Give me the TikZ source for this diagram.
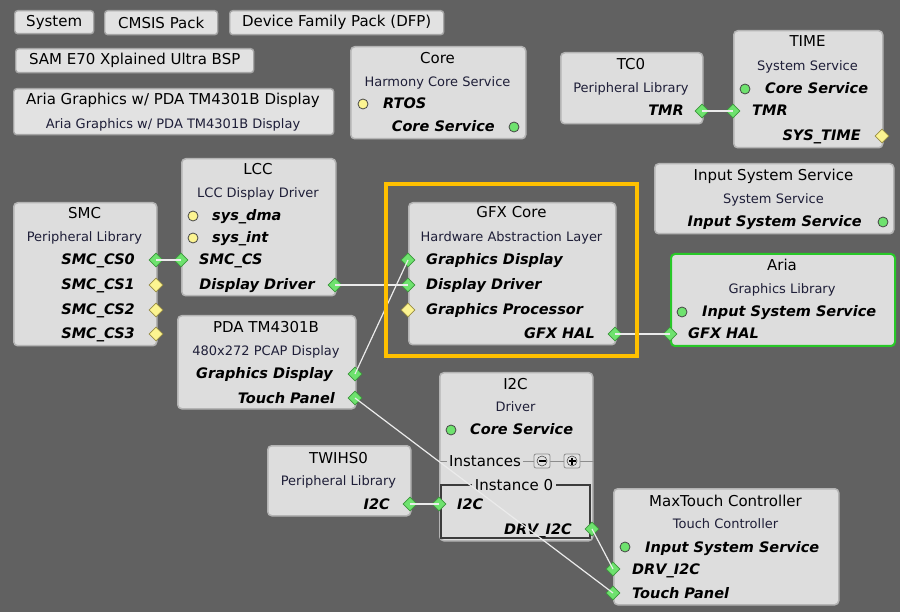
\documentclass[tikz,border=0pt]{standalone}
\usepackage{fontspec}
\setmainfont{DejaVu Sans}
\usetikzlibrary{shapes.geometric}
\definecolor{bgc}{RGB}{97,97,97}
\definecolor{boxfill}{RGB}{221,221,221}
\definecolor{boxline}{RGB}{180,180,180}
\definecolor{btnfill}{RGB}{226,226,226}
\definecolor{btnline}{RGB}{165,165,165}
\definecolor{subc}{RGB}{30,30,56}
\definecolor{gfill}{RGB}{110,226,110}
\definecolor{gdark}{RGB}{60,150,60}
\definecolor{yfill}{RGB}{252,244,145}
\definecolor{ydark}{RGB}{150,140,70}
\definecolor{cdark}{RGB}{70,70,70}
\definecolor{wirec}{RGB}{235,235,235}
\definecolor{orangec}{RGB}{255,192,0}
\definecolor{ariag}{RGB}{40,200,40}
\definecolor{framec}{RGB}{60,60,60}
\definecolor{instl}{RGB}{140,140,140}
\newcommand\blk[6][]{\node[box,#1,anchor=north west,minimum width={#5pt-#3pt},minimum height={#6pt-#4pt}] (#2) at (#3,#4) {};}
\newcommand\ttlT[4]{\node[ttlf,anchor=base] (#1) at (#2,#3+5) {#4};}
\newcommand\subT[4]{\node[subf,anchor=base] (#1) at (#2,#3+4.5) {#4};}
\newcommand\lbL[4]{\node[lblf,anchor=base west] (#1) at (#2,#3+5) {#4};}
\newcommand\lbR[4]{\node[lblf,anchor=base east] (#1) at (#2,#3+5) {#4};}
\begin{document}
\begin{tikzpicture}[x=1pt,y=-1pt,
  box/.style={draw=boxline,fill=boxfill,rounded corners=4pt,line width=1.5pt,inner sep=0pt},
  btn/.style={draw=btnline,fill=btnfill,rounded corners=3pt,line width=1.4pt,inner sep=0pt,font=\fontsize{15}{18}\selectfont},
  ttlf/.style={inner sep=0pt,font=\fontsize{15}{18}\selectfont},
  subf/.style={inner sep=0pt,font=\fontsize{13}{15}\selectfont,text=subc},
  lblf/.style={inner sep=0pt,font=\fontsize{14.5}{17}\selectfont\bfseries\itshape},
  gdia/.style={diamond,draw=gdark,fill=gfill,line width=0.8pt,minimum width=14pt,minimum height=14pt,inner sep=0pt},
  ydia/.style={diamond,draw=ydark,fill=yfill,line width=0.8pt,minimum width=14pt,minimum height=14pt,inner sep=0pt},
  gcir/.style={circle,draw=cdark,fill=gfill,line width=0.8pt,minimum size=10pt,inner sep=0pt},
  ycir/.style={circle,draw=cdark,fill=yfill,line width=0.8pt,minimum size=10pt,inner sep=0pt},
  wire/.style={draw=wirec,line width=1.2pt},
  pm/.style={draw=instl,fill=btnfill,rounded corners=2pt,line width=0.8pt,minimum width=16pt,minimum height=14pt,inner sep=0pt}
]
\fill[bgc] (0,0) rectangle (900,612);
\useasboundingbox (0,0) rectangle (900,612);

% top buttons
\node[btn,anchor=north west,minimum width=79pt,minimum height=23pt] (bsys) at (14,10) {System};
\node[btn,anchor=north west,minimum width=113pt,minimum height=24pt] (bcmsis) at (104,10) {CMSIS Pack};
\node[btn,anchor=north west,minimum width=214pt,minimum height=24pt] (bdfp) at (229,10) {Device Family Pack (DFP)};
\node[btn,anchor=north west,minimum width=238pt,minimum height=24pt] (bbsp) at (15,48) {SAM E70 Xplained Ultra BSP};
\node[btn,anchor=north west,minimum width=320pt,minimum height=46pt] (baria) at (13,88) {};
\ttlT{bariat}{173}{100}{Aria Graphics w/ PDA TM4301B Display}
\subT{barias}{173}{124}{Aria Graphics w/ PDA TM4301B Display}

% Core
\blk{core}{350}{46}{525}{138}
\ttlT{coret}{437.5}{59}{Core}
\subT{cores}{437.5}{82}{Harmony Core Service}
\node[ycir] (corertosc) at (363,104) {};
\lbL{corertos}{383}{104}{RTOS}
\lbR{corecs}{495}{127}{Core Service}
\node[gcir] (corecsc) at (514,127) {};

% TC0
\blk{tc}{560}{52}{702}{123}
\ttlT{tct}{631}{65}{TC0}
\subT{tcs}{631}{88}{Peripheral Library}
\lbR{tctmrl}{684}{111}{TMR}
\node[gdia] (tctmr) at (702,111) {};

% TIME
\blk{time}{733}{30}{882}{147}
\ttlT{timet}{807.5}{42}{TIME}
\subT{times}{807.5}{66}{System Service}
\node[gcir] (timecsc) at (745,89) {};
\lbL{timecs}{765}{89}{Core Service}
\node[gdia] (timetmr) at (733,111) {};
\lbL{timetmrl}{752}{111}{TMR}
\lbR{timesys}{861}{136}{SYS\_TIME}
\node[ydia] (timesysd) at (882,136) {};

% Input System Service
\blk{iss}{654}{163}{893}{233}
\ttlT{isst}{773.5}{176}{Input System Service}
\subT{isss}{773.5}{199}{System Service}
\lbR{issl}{862}{222}{Input System Service}
\node[gcir] (issc) at (883,222) {};

% SMC
\blk{smc}{13}{202}{156}{345}
\ttlT{smct}{84.5}{214}{SMC}
\subT{smcs}{84.5}{237}{Peripheral Library}
\lbR{smc0l}{135}{260}{SMC\_CS0}
\lbR{smc1l}{135}{285}{SMC\_CS1}
\lbR{smc2l}{135}{310}{SMC\_CS2}
\lbR{smc3l}{135}{334}{SMC\_CS3}
\node[gdia] (smc0) at (156,260) {};
\node[ydia] (smc1) at (156,285) {};
\node[ydia] (smc2) at (156,310) {};
\node[ydia] (smc3) at (156,334) {};

% LCC
\blk{lcc}{181}{158}{335}{295}
\ttlT{lcct}{258}{170}{LCC}
\subT{lccs}{258}{193}{LCC Display Driver}
\node[ycir] (lccdmac) at (193,216) {};
\lbL{lccdma}{212}{216}{sys\_dma}
\node[ycir] (lccintc) at (193,238) {};
\lbL{lccint}{212}{238}{sys\_int}
\node[gdia] (lccsmc) at (181,260) {};
\lbL{lccsmcl}{199}{260}{SMC\_CS}
\lbR{lccddl}{315}{285}{Display Driver}
\node[gdia] (lccdd) at (335,285) {};

% PDA
\blk{pda}{177}{315}{355}{408}
\ttlT{pdat}{266}{328}{PDA TM4301B}
\subT{pdas}{266}{351}{480x272 PCAP Display}
\lbR{pdagdl}{333}{374}{Graphics Display}
\lbR{pdatpl}{335}{398}{Touch Panel}
\node[gdia] (pdagd) at (355,374) {};
\node[gdia] (pdatp) at (355,398) {};

% GFX Core
\blk{gfx}{408}{202}{615}{344}
\ttlT{gfxt}{511.5}{213}{GFX Core}
\subT{gfxs}{511.5}{237}{Hardware Abstraction Layer}
\lbL{gfxgdl}{426}{260}{Graphics Display}
\lbL{gfxddl}{426}{285}{Display Driver}
\lbL{gfxgpl}{426}{310}{Graphics Processor}
\lbR{gfxhall}{595}{334}{GFX HAL}
\node[gdia] (gfxgd) at (408,260) {};
\node[gdia] (gfxdd) at (408,285) {};
\node[ydia] (gfxgp) at (408,310) {};
\node[gdia] (gfxhal) at (615,334) {};

% Aria
\blk[draw=ariag,line width=2pt]{aria}{670}{253}{894}{345}
\ttlT{ariat}{782}{266}{Aria}
\subT{arias}{782}{289}{Graphics Library}
\node[gcir] (ariaissc) at (682,312) {};
\lbL{ariaiss}{702}{312}{Input System Service}
\lbL{ariahall}{688}{334}{GFX HAL}
\node[gdia] (ariahal) at (670,334) {};

% I2C
\blk{itc}{439}{372}{592}{540}
\ttlT{itct}{515.5}{384}{I2C}
\subT{itcs}{515.5}{407}{Driver}
\node[gcir] (itccsc) at (451,430) {};
\lbL{itccs}{470}{430}{Core Service}
\draw[instl,line width=0.8pt] (itc.west |- 0,461) -- (itc.east |- 0,461);
\node[ttlf,anchor=base west,fill=boxfill,inner xsep=2pt,inner ysep=1pt] (itcinst) at (447,466) {Instances};
\node[pm] (itcminus) at (542,461) {};
\draw[black,line width=1.2pt] (itcminus.center) ++(-3.5,0) -- ++(7,0);
\draw[cdark,line width=0.6pt] (itcminus.center) circle (5pt);
\node[pm] (itcplus) at (572,461) {};
\draw[black,line width=1.2pt] (itcplus.center) ++(-3.5,0) -- ++(7,0) (itcplus.center) ++(0,-3.5) -- ++(0,7);
\draw[cdark,line width=0.6pt] (itcplus.center) circle (5pt);
\draw[framec,line width=1.3pt] (441,485) rectangle (590,538);
\node[ttlf,anchor=base,fill=boxfill,inner xsep=3pt,inner ysep=1pt] (itcinst0) at (514,490) {Instance 0};
\node[gdia] (itci2c) at (439,504) {};
\lbL{itci2cl}{457}{504}{I2C}
\lbR{itcdrvl}{572}{529}{DRV\_I2C}
\node[gdia] (itcdrv) at (592,529) {};

% TWIHS0
\blk{twi}{267}{445}{410}{515}
\ttlT{twit}{338.5}{458}{TWIHS0}
\subT{twis}{338.5}{481}{Peripheral Library}
\lbR{twii2cl}{390}{504}{I2C}
\node[gdia] (twii2c) at (410,504) {};

% MaxTouch
\blk{mxt}{613}{488}{838}{604}
\ttlT{mxtt}{725.5}{501}{MaxTouch Controller}
\subT{mxts}{725.5}{524}{Touch Controller}
\node[gcir] (mxtissc) at (625,547) {};
\lbL{mxtiss}{645}{547}{Input System Service}
\lbL{mxtdrvl}{632}{569}{DRV\_I2C}
\lbL{mxttpl}{632}{593}{Touch Panel}
\node[gdia] (mxtdrv) at (613,569) {};
\node[gdia] (mxttp) at (613,593) {};

% connectors
\draw[wire] (smc0.center) -- (lccsmc.center);
\draw[wire] (lccdd.center) -- (gfxdd.center);
\draw[wire] (pdagd.center) -- (gfxgd.center);
\draw[wire] (pdatp.center) -- (mxttp.center);
\draw[wire] (tctmr.center) -- (timetmr.center);
\draw[wire] (gfxhal.center) -- (ariahal.center);
\draw[wire] (twii2c.center) -- (itci2c.center);
\draw[wire] (itcdrv.center) -- (mxtdrv.center);

% selection frame
\draw[orangec,line width=4pt] (386,184) rectangle (637,356);
\end{tikzpicture}
\end{document}
